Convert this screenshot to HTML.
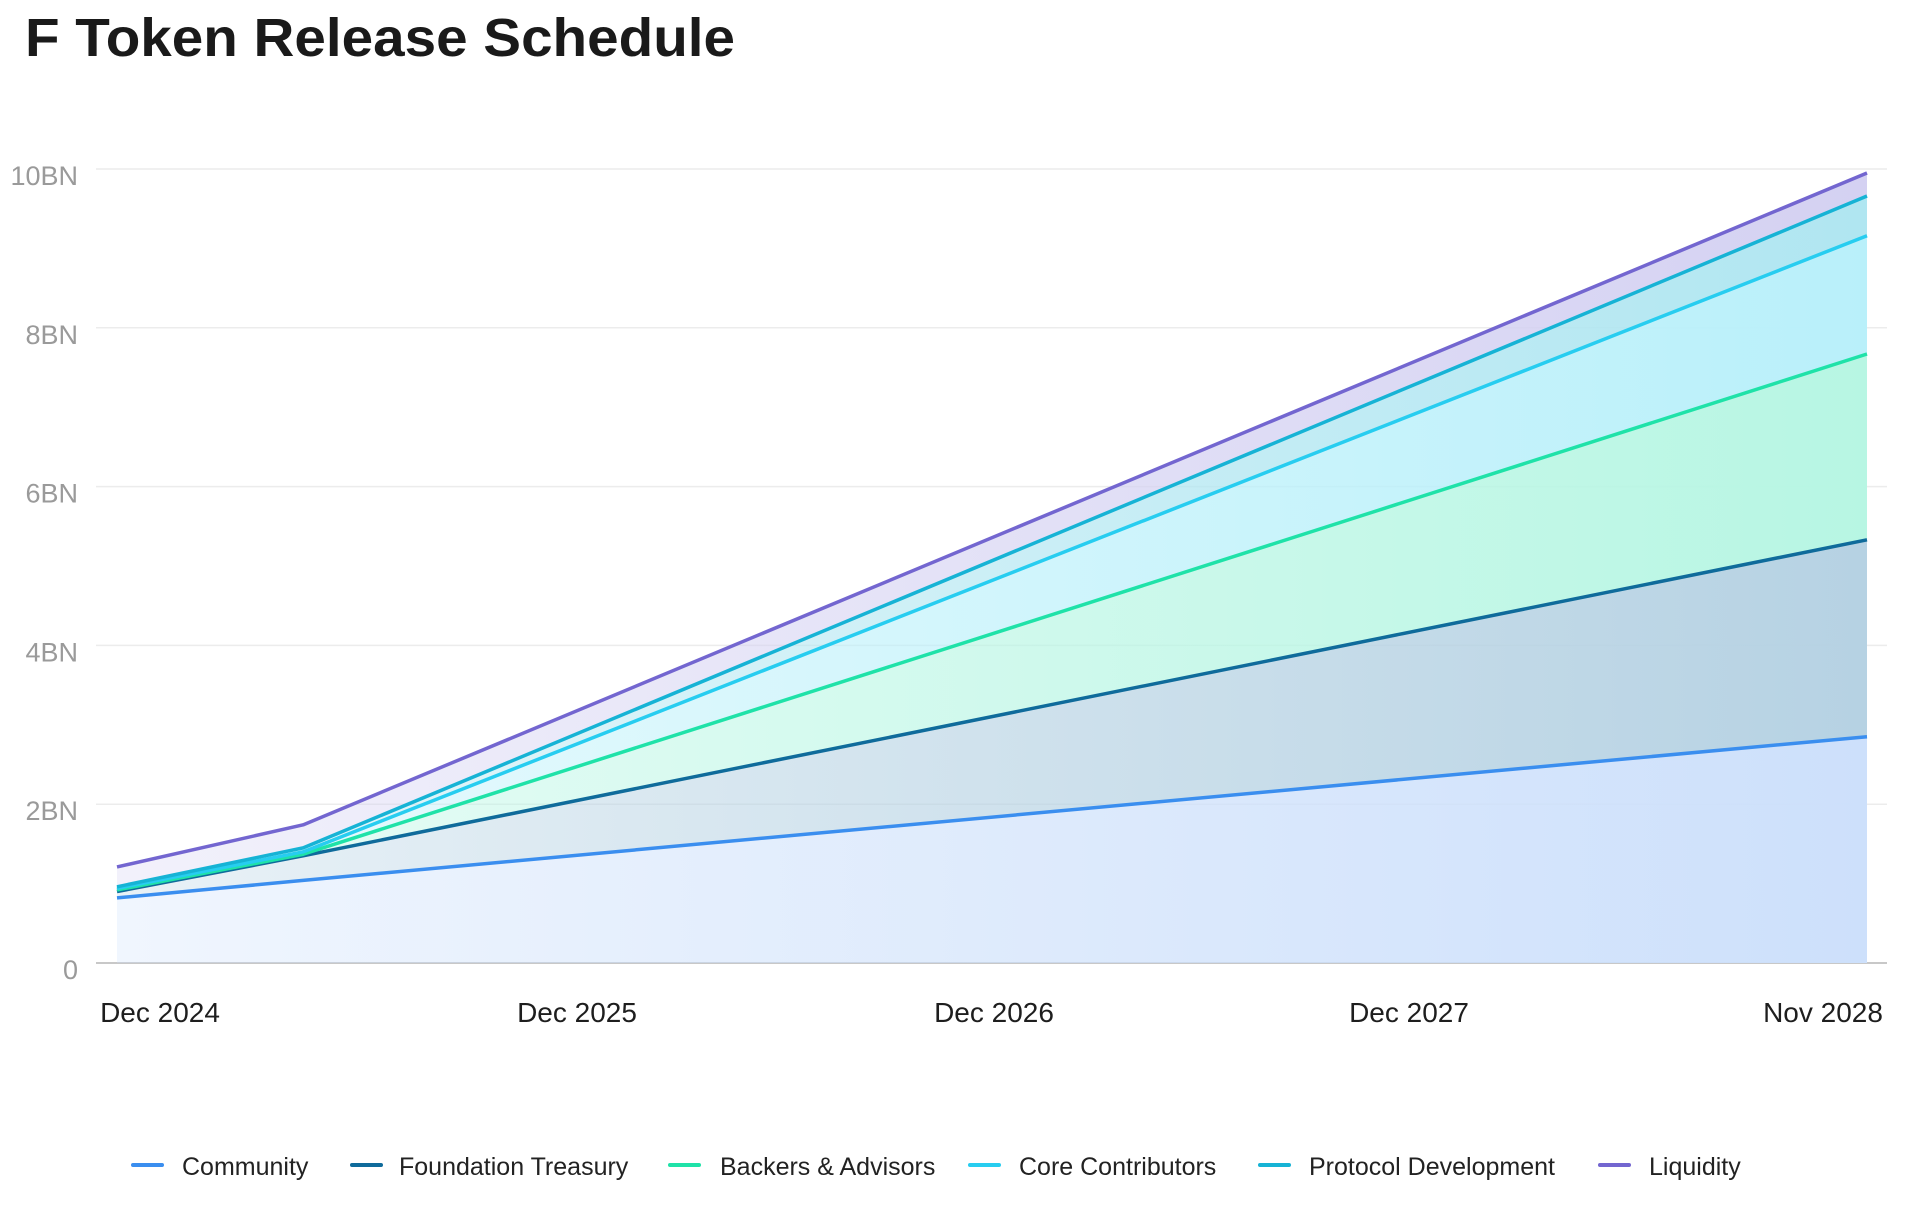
<!DOCTYPE html>
<html><head><meta charset="utf-8"><style>
html,body{margin:0;padding:0;background:#fff;}
svg{display:block;font-family:"Liberation Sans",sans-serif;}
</style></head><body>
<svg id="chart" width="1914" height="1207" viewBox="0 0 1914 1207">
<defs id="defs"></defs>
<text x="25" y="56" font-size="54" font-weight="bold" fill="#1a1a1a" textLength="710" lengthAdjust="spacingAndGlyphs">F Token Release Schedule</text>
<g id="grid"></g><g id="areas"></g><g id="lines"></g><g id="xlabels"></g><g id="legend"></g>
</svg>
<script>
const months = [0, 5, 47];
const community = [0.82, 1.04, 2.85];
const foundation = [0.08, 0.31, 2.48];
const backers = [0.02, 0.02, 2.34];
const core = [0.02, 0.03, 1.49];
const protocol = [0.02, 0.05, 0.50];
const liquidity = [0.25, 0.29, 0.29];
const yTicks = [0, 2, 4, 6, 8, 10];
const yTickLabels = ["0", "2BN", "4BN", "6BN", "8BN", "10BN"];
const xTickLabels = ["Dec 2024", "Dec 2025", "Dec 2026", "Dec 2027", "Nov 2028"];
const seriesNames = ["Community","Foundation Treasury","Backers & Advisors","Core Contributors","Protocol Development","Liquidity"];

const NS="http://www.w3.org/2000/svg";
const X0=117, X1=1867, Y0=963, YTOP=169;
const x = m => X0 + (m - months[0]) / (months[months.length-1]-months[0]) * (X1-X0);
const y = v => Y0 - v/10*(Y0-YTOP);
function mk(tag, attrs, parent){const e=document.createElementNS(NS,tag);for(const k in attrs)e.setAttribute(k,attrs[k]);parent.appendChild(e);return e;}

const series=[community,foundation,backers,core,protocol,liquidity];
const lineColors=["#3a8eef","#0f6b9b","#1fe2a8","#27cdf0","#16b3d5","#7366d0"];
const fillColors=["#cde0fb","#b6d2e3","#b7f6e3","#b9f0fa","#b0e6f1","#d4d1f2"];
const names=["community","foundation-treasury","backers-advisors","core-contributors","protocol-development","liquidity"];

const grid=document.getElementById('grid');
yTicks.forEach((t,i)=>{
  const gl=mk('line',{x1:96,x2:1887,y1:y(t),y2:y(t),stroke:t===0?'#c8c8c8':'#ececec','stroke-width':t===0?2:1.5},grid);
  
  
  const tx=mk('text',{x:78,y:y(t)+16,'text-anchor':'end','font-size':27,fill:'#9a9a9a'},grid);
  tx.textContent=yTickLabels[i];
  
  
});
const xl=document.getElementById('xlabels');
const xPos=[160,577,994,1409,1823];
xTickLabels.forEach((l,i)=>{
  const t=mk('text',{x:xPos[i],y:1022,'text-anchor':'middle','font-size':28,fill:'#1e1e1e'},xl);
  t.textContent=l;
  
  
});

const defs=document.getElementById('defs');
fillColors.forEach((c,i)=>{
  const g=mk('linearGradient',{id:'g'+i,x1:0,y1:0,x2:1,y2:0},defs);
  mk('stop',{offset:0,'stop-color':c,'stop-opacity':0.3},g);
  mk('stop',{offset:1,'stop-color':c,'stop-opacity':1},g);
});
const areas=document.getElementById('areas'), lines=document.getElementById('lines');
let base=months.map(()=>0);
series.forEach((s,i)=>{
  const top=s.map((v,j)=>base[j]+v);
  let d='';
  months.forEach((m,j)=>{d+=(j?'L':'M')+x(m)+','+y(top[j]);});
  let a=d;
  for(let j=months.length-1;j>=0;j--)a+='L'+x(months[j])+','+y(base[j]);
  a+='Z';
  const ar=mk('path',{d:a,fill:'url(#g'+i+')'},areas);
  
  
  const ln=mk('path',{d:d,fill:'none',stroke:lineColors[i],'stroke-width':3.5,'stroke-linejoin':'round'},lines);
  
  
  base=top;
});

const lg=document.getElementById('legend');
const sw=[131,350,668,968,1258,1598], tx=[182,399,720,1019,1309,1649];
seriesNames.forEach((n,i)=>{
  const g=mk('g',{},lg);
  
  
  mk('rect',{x:sw[i],y:1163,width:33,height:4,rx:2,fill:lineColors[i]},g);
  const t=mk('text',{x:tx[i],y:1175,'font-size':25,fill:'#222'},g);
  t.textContent=n;
});
</script>
</body></html>
